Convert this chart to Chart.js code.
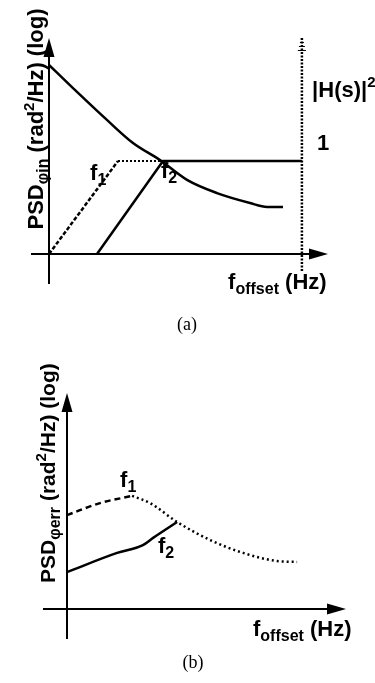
<!DOCTYPE html>
<html>
<head>
<meta charset="utf-8">
<script src="https://cdn.jsdelivr.net/npm/chart.js@4.4.0/dist/chart.umd.min.js"></script>
<style>
  html, body { margin: 0; padding: 0; background: #fff; }
  #lienzo { position: relative; width: 375px; height: 683px; }
  .panel { position: absolute; left: 0; width: 375px; }
  #panelA { top: 0; height: 340px; }
  #panelB { top: 340px; height: 343px; }
</style>
</head>
<body>
<div id="lienzo">
  <div class="panel" id="panelA"><canvas id="chartA"></canvas></div>
  <div class="panel" id="panelB"><canvas id="chartB"></canvas></div>
</div>
<script>
// (a) ruido de entrada y filtros |H(s)|^2 (unidades arbitrarias, eje log)
const xRuidoEntrada = [0, 8, 19.3, 28, 37, 46, 56, 67, 72.7, 78];
const yRuidoEntrada = [63, 55.3, 44.7, 37, 31.3, 24.7, 20.3, 17, 15.7, 15.7];
const nivelH = 31;               // |H(s)|^2 = 1
const xSubidaF1 = [0, 23];
const ySubidaF1 = [0, nivelH];
const xMesetaF1 = [23, 38];
const xFiltroF2 = [16, 38, 84.3];
const yFiltroF2 = [0, nivelH, nivelH];
const xEjeH = 84.3;
const yEjeH = [72, -6];

// (b) ruido de fase del error para cada filtro
const xErrF1Subida = [0, 11, 21.7];
const yErrF1Subida = [31.3, 35.3, 37.7];
const xErrF1Bajada = [21.7, 27.7, 36.7, 47.7, 58.7, 70, 76.7];
const yErrF1Bajada = [37.7, 35.3, 29, 23, 18.7, 16, 15.7];
const xErrF2 = [0, 16.7, 25.3, 28.7, 36.7];
const yErrF2 = [12.3, 18.7, 21.3, 23.7, 29];

const SANS = '"Liberation Sans", Arial, Helvetica, sans-serif';
const SERIF = '"Liberation Serif", "Times New Roman", serif';

const puntos = (xs, ys) => xs.map((x, i) => ({ x, y: ys[i] }));

// dibuja texto con sub/superindices: partes = [texto, tamaño, dy]
function dibujarTexto(ctx, partes, x, y, alinear, rotar, familia) {
  const fam = familia || SANS;
  const peso = fam === SANS ? 'bold ' : '';
  ctx.save();
  ctx.translate(x, y);
  if (rotar) ctx.rotate(-Math.PI / 2);
  ctx.fillStyle = '#000';
  ctx.textBaseline = 'alphabetic';
  let ancho = 0;
  partes.forEach(([t, tam]) => {
    ctx.font = `${peso}${tam}px ${fam}`;
    ancho += ctx.measureText(t).width;
  });
  let cx = alinear === 'center' ? -ancho / 2 : 0;
  partes.forEach(([t, tam, dy = 0]) => {
    ctx.font = `${peso}${tam}px ${fam}`;
    ctx.fillText(t, cx, dy);
    cx += ctx.measureText(t).width;
  });
  ctx.restore();
}

const esquema = {
  id: 'esquema',
  beforeDatasetsDraw(chart, args, opts) {
    const { ctx } = chart;
    const sx = chart.scales.x, sy = chart.scales.y;
    const x0 = sx.getPixelForValue(0), y0 = sy.getPixelForValue(0);
    const xFin = sx.getPixelForValue(sx.max), yFin = sy.getPixelForValue(sy.max);
    ctx.save();
    ctx.strokeStyle = '#000';
    ctx.fillStyle = '#000';
    ctx.lineWidth = 2;
    ctx.beginPath();
    ctx.moveTo(sx.getPixelForValue(sx.min), y0);
    ctx.lineTo(xFin - 10, y0);
    ctx.moveTo(x0, sy.getPixelForValue(sy.min));
    ctx.lineTo(x0, yFin + 10);
    ctx.stroke();
    // puntas de flecha
    ctx.beginPath();
    ctx.moveTo(xFin, y0);
    ctx.lineTo(xFin - 19, y0 - 5.5);
    ctx.lineTo(xFin - 19, y0 + 5.5);
    ctx.closePath();
    ctx.moveTo(x0, yFin);
    ctx.lineTo(x0 - 5.5, yFin + 19);
    ctx.lineTo(x0 + 5.5, yFin + 19);
    ctx.closePath();
    ctx.fill();
    ctx.restore();
  },
  afterDraw(chart, args, opts) {
    const { ctx } = chart;
    const sx = chart.scales.x, sy = chart.scales.y;
    if (opts.flechaH) {
      // pequeña flecha punteada arriba del eje |H(s)|^2
      const px = sx.getPixelForValue(opts.flechaH.x);
      const py = sy.getPixelForValue(opts.flechaH.y);
      ctx.save();
      ctx.strokeStyle = '#000';
      ctx.lineWidth = 1;
      [0, 4, 8, 12].forEach((d, i) => {
        ctx.beginPath();
        ctx.moveTo(px - 1 - i, py + d + 0.5);
        ctx.lineTo(px + 1 + i, py + d + 0.5);
        ctx.stroke();
      });
      ctx.restore();
    }
    (opts.textos || []).forEach(t => {
      dibujarTexto(ctx, t.partes, sx.getPixelForValue(t.x), sy.getPixelForValue(t.y),
        t.alinear, t.rotar, t.familia);
    });
  }
};

Chart.register(esquema);

function crearEsquema(id, datasets, limites, padding, textos, flechaH) {
  return new Chart(document.getElementById(id), {
    type: 'line',
    data: { datasets },
    options: {
      responsive: true,
      maintainAspectRatio: false,
      animation: false,
      layout: { padding },
      elements: { point: { radius: 0 }, line: { borderColor: '#000', tension: 0 } },
      scales: {
        x: { type: 'linear', min: limites[0], max: limites[1], display: false },
        y: { type: 'linear', min: limites[2], max: limites[3], display: false }
      },
      plugins: {
        legend: { display: false },
        tooltip: { enabled: false },
        esquema: { textos, flechaH }
      }
    }
  });
}

const subOffset = [['f', 22], ['offset', 16, 5], [' (Hz)', 22]];

crearEsquema('chartA', [
  { data: puntos(xRuidoEntrada, yRuidoEntrada), borderWidth: 2.5, cubicInterpolationMode: 'monotone' },
  { data: puntos(xSubidaF1, ySubidaF1), borderWidth: 2.5, borderDash: [4, 2] },
  { data: puntos(xMesetaF1, [nivelH, nivelH]), borderWidth: 2, borderDash: [2, 2] },
  { data: puntos(xFiltroF2, yFiltroF2), borderWidth: 2.5 },
  { data: puntos([xEjeH, xEjeH], yEjeH), borderWidth: 2.5, borderDash: [2, 1.5] }
], [-6, 93, -10, 72], { left: 31, right: 47, top: 38, bottom: 56 }, [
  { partes: [['PSD', 22], ['φin', 16, 5], [' (rad', 22], ['2', 15, -9], ['/Hz) (log)', 22]], x: -2, y: 45, alinear: 'center', rotar: true },
  { partes: [['f', 22], ['1', 16, 5]], x: 13.7, y: 24.7 },
  { partes: [['f', 22], ['2', 16, 5]], x: 37.3, y: 25.3 },
  { partes: [['|H(s)|', 22], ['2', 15, -10]], x: 87.7, y: 52.3 },
  { partes: [['1', 22]], x: 89.3, y: 34.7 },
  { partes: subOffset, x: 59.7, y: -11.7 },
  { partes: [['(a)', 18]], x: 46, y: -25.3, alinear: 'center', familia: SERIF }
], { x: xEjeH, y: 72 });

crearEsquema('chartB', [
  { data: puntos(xErrF1Subida, yErrF1Subida), borderWidth: 2.5, borderDash: [6, 4], cubicInterpolationMode: 'monotone' },
  { data: puntos(xErrF1Bajada, yErrF1Bajada), borderWidth: 2.5, borderDash: [2, 3], cubicInterpolationMode: 'monotone' },
  { data: puntos(xErrF2, yErrF2), borderWidth: 2.5, cubicInterpolationMode: 'monotone' }
], [-8, 93, -10, 72], { left: 43, right: 29, top: 53, bottom: 44 }, [
  { partes: [['PSD', 21], ['φerr', 16, 5], [' (rad', 21], ['2', 15, -9], ['/Hz) (log)', 21]], x: -4, y: 45.3, alinear: 'center', rotar: true },
  { partes: [['f', 22], ['1', 16, 5]], x: 17.7, y: 40.7 },
  { partes: [['f', 22], ['2', 16, 5]], x: 30.3, y: 18.7 },
  { partes: subOffset, x: 62, y: -9 },
  { partes: [['(b)', 18]], x: 42, y: -19.7, alinear: 'center', familia: SERIF }
]);
</script>
</body>
</html>
